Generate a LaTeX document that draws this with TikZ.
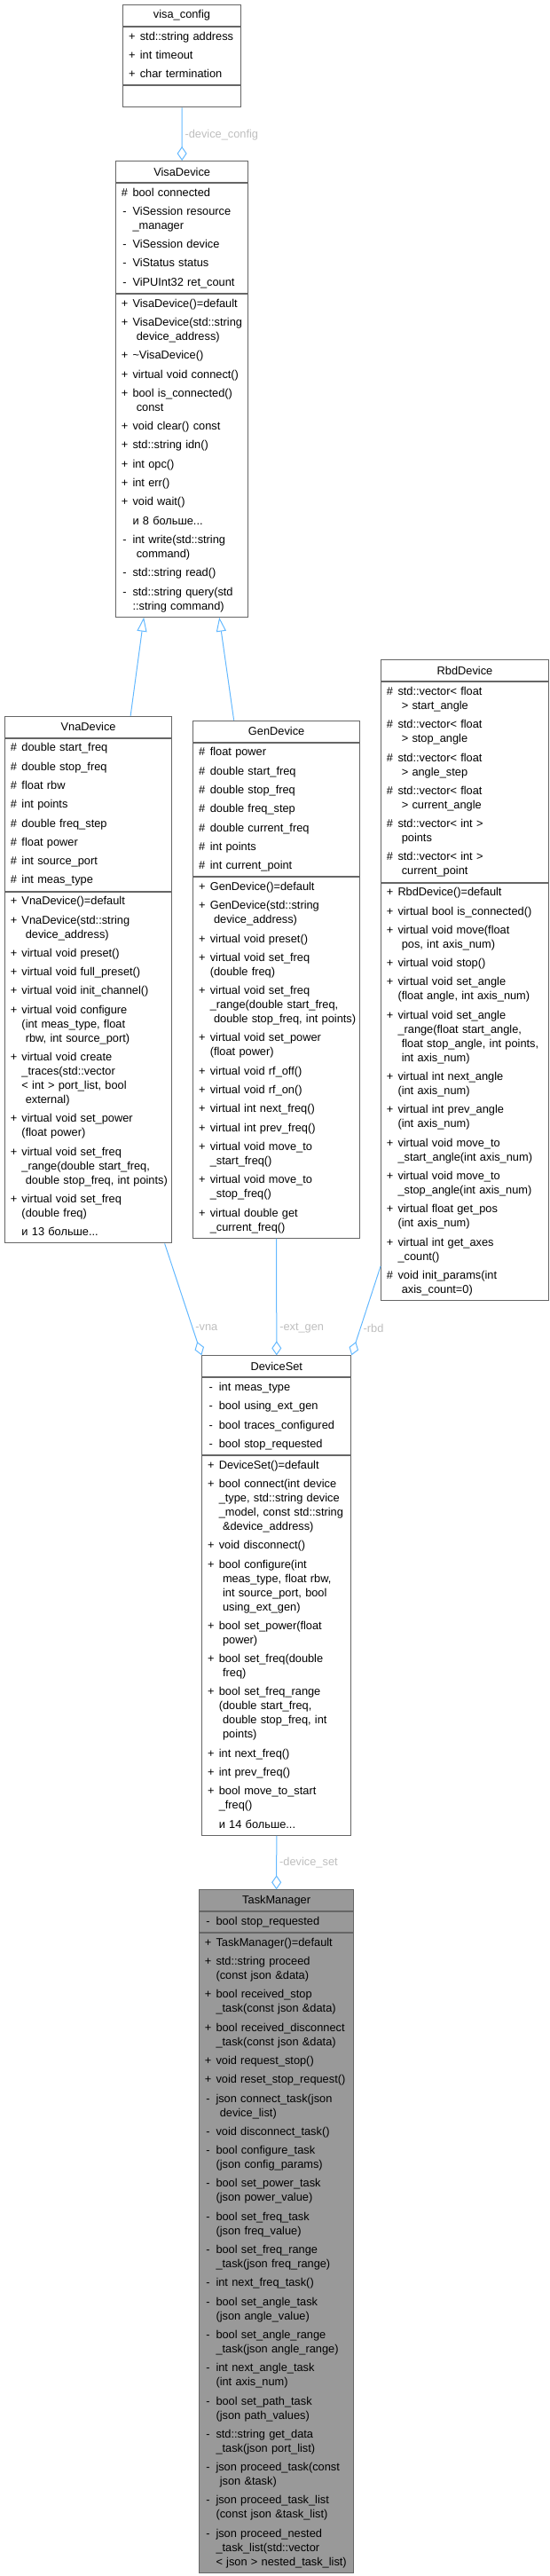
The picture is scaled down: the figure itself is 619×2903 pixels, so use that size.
\documentclass[tikz,border=0pt]{standalone}
\usepackage{fontspec}
\setmainfont{Liberation Sans}
\usepackage{array}
\usetikzlibrary{arrows.meta,positioning}

\definecolor{boxgray}{HTML}{666666}
\definecolor{edgeblue}{HTML}{63B8FF}
\definecolor{lblgray}{HTML}{BEBEBE}
\definecolor{curfill}{HTML}{999999}

\newenvironment{members}{\begin{tabular}{@{}w{c}{8pt}@{\hspace{5pt}}l@{}}}{\end{tabular}}

\tikzset{
  every node/.style={font=\fontsize{12.8}{16}\selectfont},
  clsname/.style={draw=boxgray, line width=1pt, fill=white, text width=#1,
    inner xsep=6pt, inner ysep=0pt, minimum height=24pt, align=center},
  clspart/.style={draw=boxgray, line width=1pt, fill=white, text width=#1,
    inner xsep=6pt, inner ysep=3.4pt, align=left},
  curcls/.style={fill=curfill},
  inherit/.style={draw=edgeblue, line width=1pt, -{Triangle[open, length=16pt, width=11pt]}},
  member/.style={draw=edgeblue, line width=1pt, -{Diamond[open, length=16pt, width=11pt]}},
  lbl/.style={text=lblgray, anchor=west, inner sep=3pt},
}

\begin{document}
\begin{tikzpicture}[x=1pt, y=-1pt]
    \useasboundingbox (0,0) rectangle (619,2903);

    \node[clsname=120.4pt, anchor=north west] (vcfgT) at (138.3,5) {visa\_config};
    \node[clspart=120.4pt, below=0pt of vcfgT] (vcfgA) {\begin{members}
        + & std::string address\\[5.3pt]
        + & int timeout\\[5.3pt]
        + & char termination
    \end{members}};
    \node[clspart=120.4pt, minimum height=24pt, below=0pt of vcfgA] (vcfgM) {};

    \node[clsname=137.3pt, anchor=north west] (visaT) at (130,181) {VisaDevice};
    \node[clspart=137.3pt, below=0pt of visaT] (visaA) {\begin{members}
        \# & bool connected\\[5.3pt]
        - & ViSession resource\\
          & \_manager\\[5.3pt]
        - & ViSession device\\[5.3pt]
        - & ViStatus status\\[5.3pt]
        - & ViPUInt32 ret\_count
    \end{members}};
    \node[clspart=137.3pt, below=0pt of visaA] (visaM) {\begin{members}
        + & VisaDevice()=default\\[5.3pt]
        + & VisaDevice(std::string\\
          & \ device\_address)\\[5.3pt]
        + & \textasciitilde VisaDevice()\\[5.3pt]
        + & virtual void connect()\\[5.3pt]
        + & bool is\_connected()\\
          & \ const\\[5.3pt]
        + & void clear() const\\[5.3pt]
        + & std::string idn()\\[5.3pt]
        + & int opc()\\[5.3pt]
        + & int err()\\[5.3pt]
        + & void wait()\\[5.3pt]
          & и 8 больше...\\[5.3pt]
        - & int write(std::string\\
          & \ command)\\[5.3pt]
        - & std::string read()\\[5.3pt]
        - & std::string query(std\\
          & ::string command)
    \end{members}};

    \node[clsname=176.3pt, anchor=north west] (vnaT) at (5,806.7) {VnaDevice};
    \node[clspart=176.3pt, below=0pt of vnaT] (vnaA) {\begin{members}
        \# & double start\_freq\\[5.3pt]
        \# & double stop\_freq\\[5.3pt]
        \# & float rbw\\[5.3pt]
        \# & int points\\[5.3pt]
        \# & double freq\_step\\[5.3pt]
        \# & float power\\[5.3pt]
        \# & int source\_port\\[5.3pt]
        \# & int meas\_type
    \end{members}};
    \node[clspart=176.3pt, below=0pt of vnaA] (vnaM) {\begin{members}
        + & VnaDevice()=default\\[5.3pt]
        + & VnaDevice(std::string\\
          & \ device\_address)\\[5.3pt]
        + & virtual void preset()\\[5.3pt]
        + & virtual void full\_preset()\\[5.3pt]
        + & virtual void init\_channel()\\[5.3pt]
        + & virtual void configure\\
          & (int meas\_type, float\\
          & \ rbw, int source\_port)\\[5.3pt]
        + & virtual void create\\
          & \_traces(std::vector\\
          & < int > port\_list, bool\\
          & \ external)\\[5.3pt]
        + & virtual void set\_power\\
          & (float power)\\[5.3pt]
        + & virtual void set\_freq\\
          & \_range(double start\_freq,\\
          & \ double stop\_freq, int points)\\[5.3pt]
        + & virtual void set\_freq\\
          & (double freq)\\[5.3pt]
          & и 13 больше...
    \end{members}};

    \node[clsname=175.7pt, anchor=north west] (genT) at (217.3,811.7) {GenDevice};
    \node[clspart=175.7pt, below=0pt of genT] (genA) {\begin{members}
        \# & float power\\[5.3pt]
        \# & double start\_freq\\[5.3pt]
        \# & double stop\_freq\\[5.3pt]
        \# & double freq\_step\\[5.3pt]
        \# & double current\_freq\\[5.3pt]
        \# & int points\\[5.3pt]
        \# & int current\_point
    \end{members}};
    \node[clspart=175.7pt, below=0pt of genA] (genM) {\begin{members}
        + & GenDevice()=default\\[5.3pt]
        + & GenDevice(std::string\\
          & \ device\_address)\\[5.3pt]
        + & virtual void preset()\\[5.3pt]
        + & virtual void set\_freq\\
          & (double freq)\\[5.3pt]
        + & virtual void set\_freq\\
          & \_range(double start\_freq,\\
          & \ double stop\_freq, int points)\\[5.3pt]
        + & virtual void set\_power\\
          & (float power)\\[5.3pt]
        + & virtual void rf\_off()\\[5.3pt]
        + & virtual void rf\_on()\\[5.3pt]
        + & virtual int next\_freq()\\[5.3pt]
        + & virtual int prev\_freq()\\[5.3pt]
        + & virtual void move\_to\\
          & \_start\_freq()\\[5.3pt]
        + & virtual void move\_to\\
          & \_stop\_freq()\\[5.3pt]
        + & virtual double get\\
          & \_current\_freq()
    \end{members}};

    \node[clsname=177pt, anchor=north west] (rbdT) at (429,743.3) {RbdDevice};
    \node[clspart=177pt, below=0pt of rbdT] (rbdA) {\begin{members}
        \# & std::vector< float\\
           & \ > start\_angle\\[5.3pt]
        \# & std::vector< float\\
           & \ > stop\_angle\\[5.3pt]
        \# & std::vector< float\\
           & \ > angle\_step\\[5.3pt]
        \# & std::vector< float\\
           & \ > current\_angle\\[5.3pt]
        \# & std::vector< int >\\
           & \ points\\[5.3pt]
        \# & std::vector< int >\\
           & \ current\_point
    \end{members}};
    \node[clspart=177pt, below=0pt of rbdA] (rbdM) {\begin{members}
        + & RbdDevice()=default\\[5.3pt]
        + & virtual bool is\_connected()\\[5.3pt]
        + & virtual void move(float\\
          & \ pos, int axis\_num)\\[5.3pt]
        + & virtual void stop()\\[5.3pt]
        + & virtual void set\_angle\\
          & (float angle, int axis\_num)\\[5.3pt]
        + & virtual void set\_angle\\
          & \_range(float start\_angle,\\
          & \ float stop\_angle, int points,\\
          & \ int axis\_num)\\[5.3pt]
        + & virtual int next\_angle\\
          & (int axis\_num)\\[5.3pt]
        + & virtual int prev\_angle\\
          & (int axis\_num)\\[5.3pt]
        + & virtual void move\_to\\
          & \_start\_angle(int axis\_num)\\[5.3pt]
        + & virtual void move\_to\\
          & \_stop\_angle(int axis\_num)\\[5.3pt]
        + & virtual float get\_pos\\
          & (int axis\_num)\\[5.3pt]
        + & virtual int get\_axes\\
          & \_count()\\[5.3pt]
        \# & void init\_params(int\\
           & \ axis\_count=0)
    \end{members}};

    \node[clsname=156pt, anchor=north west] (dsT) at (227.3,1527.3) {DeviceSet};
    \node[clspart=156pt, below=0pt of dsT] (dsA) {\begin{members}
        - & int meas\_type\\[5.3pt]
        - & bool using\_ext\_gen\\[5.3pt]
        - & bool traces\_configured\\[5.3pt]
        - & bool stop\_requested
    \end{members}};
    \node[clspart=156pt, below=0pt of dsA] (dsM) {\begin{members}
        + & DeviceSet()=default\\[5.3pt]
        + & bool connect(int device\\
          & \_type, std::string device\\
          & \_model, const std::string\\
          & \ \&device\_address)\\[5.3pt]
        + & void disconnect()\\[5.3pt]
        + & bool configure(int\\
          & \ meas\_type, float rbw,\\
          & \ int source\_port, bool\\
          & \ using\_ext\_gen)\\[5.3pt]
        + & bool set\_power(float\\
          & \ power)\\[5.3pt]
        + & bool set\_freq(double\\
          & \ freq)\\[5.3pt]
        + & bool set\_freq\_range\\
          & (double start\_freq,\\
          & \ double stop\_freq, int\\
          & \ points)\\[5.3pt]
        + & int next\_freq()\\[5.3pt]
        + & int prev\_freq()\\[5.3pt]
        + & bool move\_to\_start\\
          & \_freq()\\[5.3pt]
          & и 14 больше...
    \end{members}};

    \node[clsname=162.3pt, curcls, anchor=north west] (tmT) at (224,2129.3) {TaskManager};
    \node[clspart=162.3pt, curcls, below=0pt of tmT] (tmA) {\begin{members}
        - & bool stop\_requested
    \end{members}};
    \node[clspart=162.3pt, curcls, below=0pt of tmA] (tmM) {\begin{members}
        + & TaskManager()=default\\[5.3pt]
        + & std::string proceed\\
          & (const json \&data)\\[5.3pt]
        + & bool received\_stop\\
          & \_task(const json \&data)\\[5.3pt]
        + & bool received\_disconnect\\
          & \_task(const json \&data)\\[5.3pt]
        + & void request\_stop()\\[5.3pt]
        + & void reset\_stop\_request()\\[5.3pt]
        - & json connect\_task(json\\
          & \ device\_list)\\[5.3pt]
        - & void disconnect\_task()\\[5.3pt]
        - & bool configure\_task\\
          & (json config\_params)\\[5.3pt]
        - & bool set\_power\_task\\
          & (json power\_value)\\[5.3pt]
        - & bool set\_freq\_task\\
          & (json freq\_value)\\[5.3pt]
        - & bool set\_freq\_range\\
          & \_task(json freq\_range)\\[5.3pt]
        - & int next\_freq\_task()\\[5.3pt]
        - & bool set\_angle\_task\\
          & (json angle\_value)\\[5.3pt]
        - & bool set\_angle\_range\\
          & \_task(json angle\_range)\\[5.3pt]
        - & int next\_angle\_task\\
          & (int axis\_num)\\[5.3pt]
        - & bool set\_path\_task\\
          & (json path\_values)\\[5.3pt]
        - & std::string get\_data\\
          & \_task(json port\_list)\\[5.3pt]
        - & json proceed\_task(const\\
          & \ json \&task)\\[5.3pt]
        - & json proceed\_task\_list\\
          & (const json \&task\_list)\\[5.3pt]
        - & json proceed\_nested\\
          & \_task\_list(std::vector\\
          & < json > nested\_task\_list)
    \end{members}};

    \draw[member] (vcfgM.south) -- (visaT.north) node[lbl, pos=0.52] {-device\_config};
    \draw[inherit] ([xshift=47.5pt]vnaT.north) -- ([xshift=-43pt]visaM.south);
    \draw[inherit] ([xshift=-48pt]genT.north) -- ([xshift=42pt]visaM.south);
    \draw[member] ([xshift=86pt]vnaM.south) -- (dsT.north west) node[lbl, pos=0.75] {-vna};
    \draw[member] (genM.south) -- (dsT.north) node[lbl, pos=0.77] {-ext\_gen};
    \draw[member] ([yshift=39pt]rbdM.south west) -- (dsT.north east) node[lbl, pos=0.7] {-rbd};
    \draw[member] (dsM.south) -- (tmT.north) node[lbl, pos=0.5] {-device\_set};
\end{tikzpicture}
\end{document}
